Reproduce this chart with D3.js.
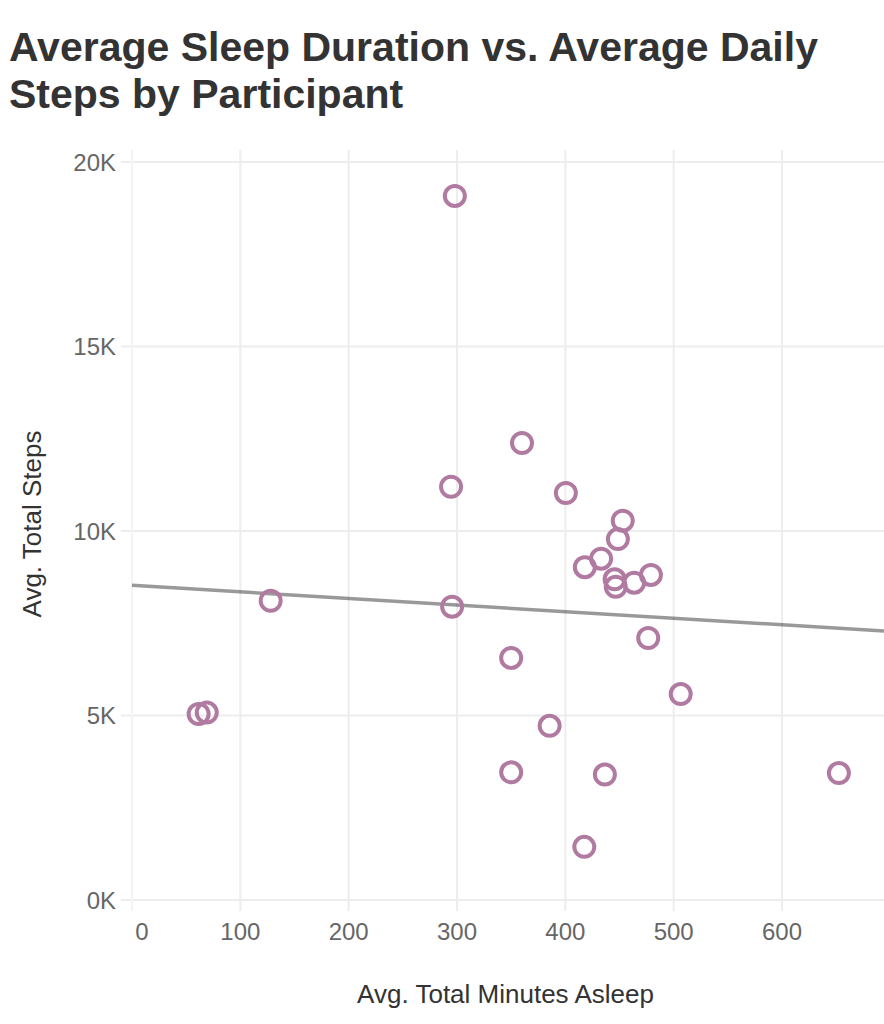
<!DOCTYPE html>
<html>
<head>
<meta charset="utf-8">
<script src="https://cdn.jsdelivr.net/npm/d3@7"></script>
<style>
  body { margin: 0; background: #fff; }
  text { font-family: "Liberation Sans", Arial, sans-serif; }
</style>
</head>
<body>
<svg id="chart" width="884" height="1024"></svg>
<script>
// avg minutes asleep per participant
var sleepMinutes = [298, 360, 294.5, 400.5, 453, 448.5, 433, 418, 445.5, 446.5, 463.5, 479,
                    128, 295.5, 476.5, 350, 506.5, 61.5, 69, 385.5, 350, 436.5, 652.5, 417.5];
// avg total steps per participant
var avgSteps = [19080, 12385, 11200, 11030, 10280, 9780, 9250, 9020, 8690, 8490, 8600, 8810,
                8110, 7950, 7100, 6560, 5580, 5040, 5080, 4720, 3460, 3400, 3440, 1440];

var xTicks = [0, 100, 200, 300, 400, 500, 600];
var yTicks = [0, 5000, 10000, 15000, 20000];

var svg = d3.select("#chart");

var panel = {left: 132, right: 884, top: 150, bottom: 900};

var x = d3.scaleLinear().domain([0, 600]).range([132, 782]);
var y = d3.scaleLinear().domain([0, 20000]).range([900, 162]);

var gridColor = "#ededed";

// title
svg.append("text")
  .attr("x", 9).attr("y", 61)
  .style("font-size", "41px").style("font-weight", "bold").style("fill", "#333")
  .text("Average Sleep Duration vs. Average Daily");
svg.append("text")
  .attr("x", 9).attr("y", 108)
  .style("font-size", "41px").style("font-weight", "bold").style("fill", "#333")
  .text("Steps by Participant");

// grid lines
svg.append("g").selectAll("line").data(yTicks).enter().append("line")
  .attr("x1", panel.left - 11).attr("x2", panel.right)
  .attr("y1", function(d){ return y(d); }).attr("y2", function(d){ return y(d); })
  .style("stroke", gridColor).style("stroke-width", 2);

svg.append("g").selectAll("line").data(xTicks).enter().append("line")
  .attr("x1", function(d){ return x(d); }).attr("x2", function(d){ return x(d); })
  .attr("y1", panel.top).attr("y2", panel.bottom + 11)
  .style("stroke", function(d){ return d === 0 ? "#f4f4f4" : gridColor; })
  .style("stroke-width", 2);

// tick labels
svg.append("g").selectAll("text").data(yTicks).enter().append("text")
  .attr("x", 116).attr("y", function(d){ return y(d); }).attr("dy", "0.36em")
  .attr("text-anchor", "end")
  .style("font-size", "24px").style("fill", "#666")
  .text(function(d){ return (d / 1000) + "K"; });

svg.append("g").selectAll("text").data(xTicks).enter().append("text")
  .attr("x", function(d){ return d === 0 ? x(d) + 10 : x(d); }).attr("y", 940)
  .attr("text-anchor", "middle")
  .style("font-size", "24px").style("fill", "#666")
  .text(function(d){ return d; });

// axis titles
svg.append("text")
  .attr("x", (121 + panel.right) / 2 + 3).attr("y", 1003)
  .attr("text-anchor", "middle")
  .style("font-size", "26px").style("fill", "#333")
  .text("Avg. Total Minutes Asleep");

svg.append("text")
  .attr("transform", "translate(41,524) rotate(-90)")
  .attr("text-anchor", "middle")
  .style("font-size", "26px").style("fill", "#333")
  .text("Avg. Total Steps");

// least squares fit (geom_smooth lm)
var mx = d3.mean(sleepMinutes), my = d3.mean(avgSteps);
var sxy = 0, sxx = 0;
for (var i = 0; i < sleepMinutes.length; i++) {
  sxy += (sleepMinutes[i] - mx) * (avgSteps[i] - my);
  sxx += (sleepMinutes[i] - mx) * (sleepMinutes[i] - mx);
}
var slope = sxy / sxx;
var intercept = my - slope * mx;
var fitX = [x.invert(panel.left), x.invert(panel.right)];

svg.append("line")
  .attr("x1", x(fitX[0])).attr("y1", y(intercept + slope * fitX[0]))
  .attr("x2", x(fitX[1])).attr("y2", y(intercept + slope * fitX[1]))
  .style("stroke", "#000").style("stroke-opacity", 0.4).style("stroke-width", 3.5);

// points
svg.append("g").selectAll("circle").data(sleepMinutes).enter().append("circle")
  .attr("cx", function(d){ return x(d); })
  .attr("cy", function(d, i){ return y(avgSteps[i]); })
  .attr("r", 10)
  .style("fill", "none")
  .style("stroke", "#b07aa1")
  .style("stroke-width", 4);
</script>
</body>
</html>
